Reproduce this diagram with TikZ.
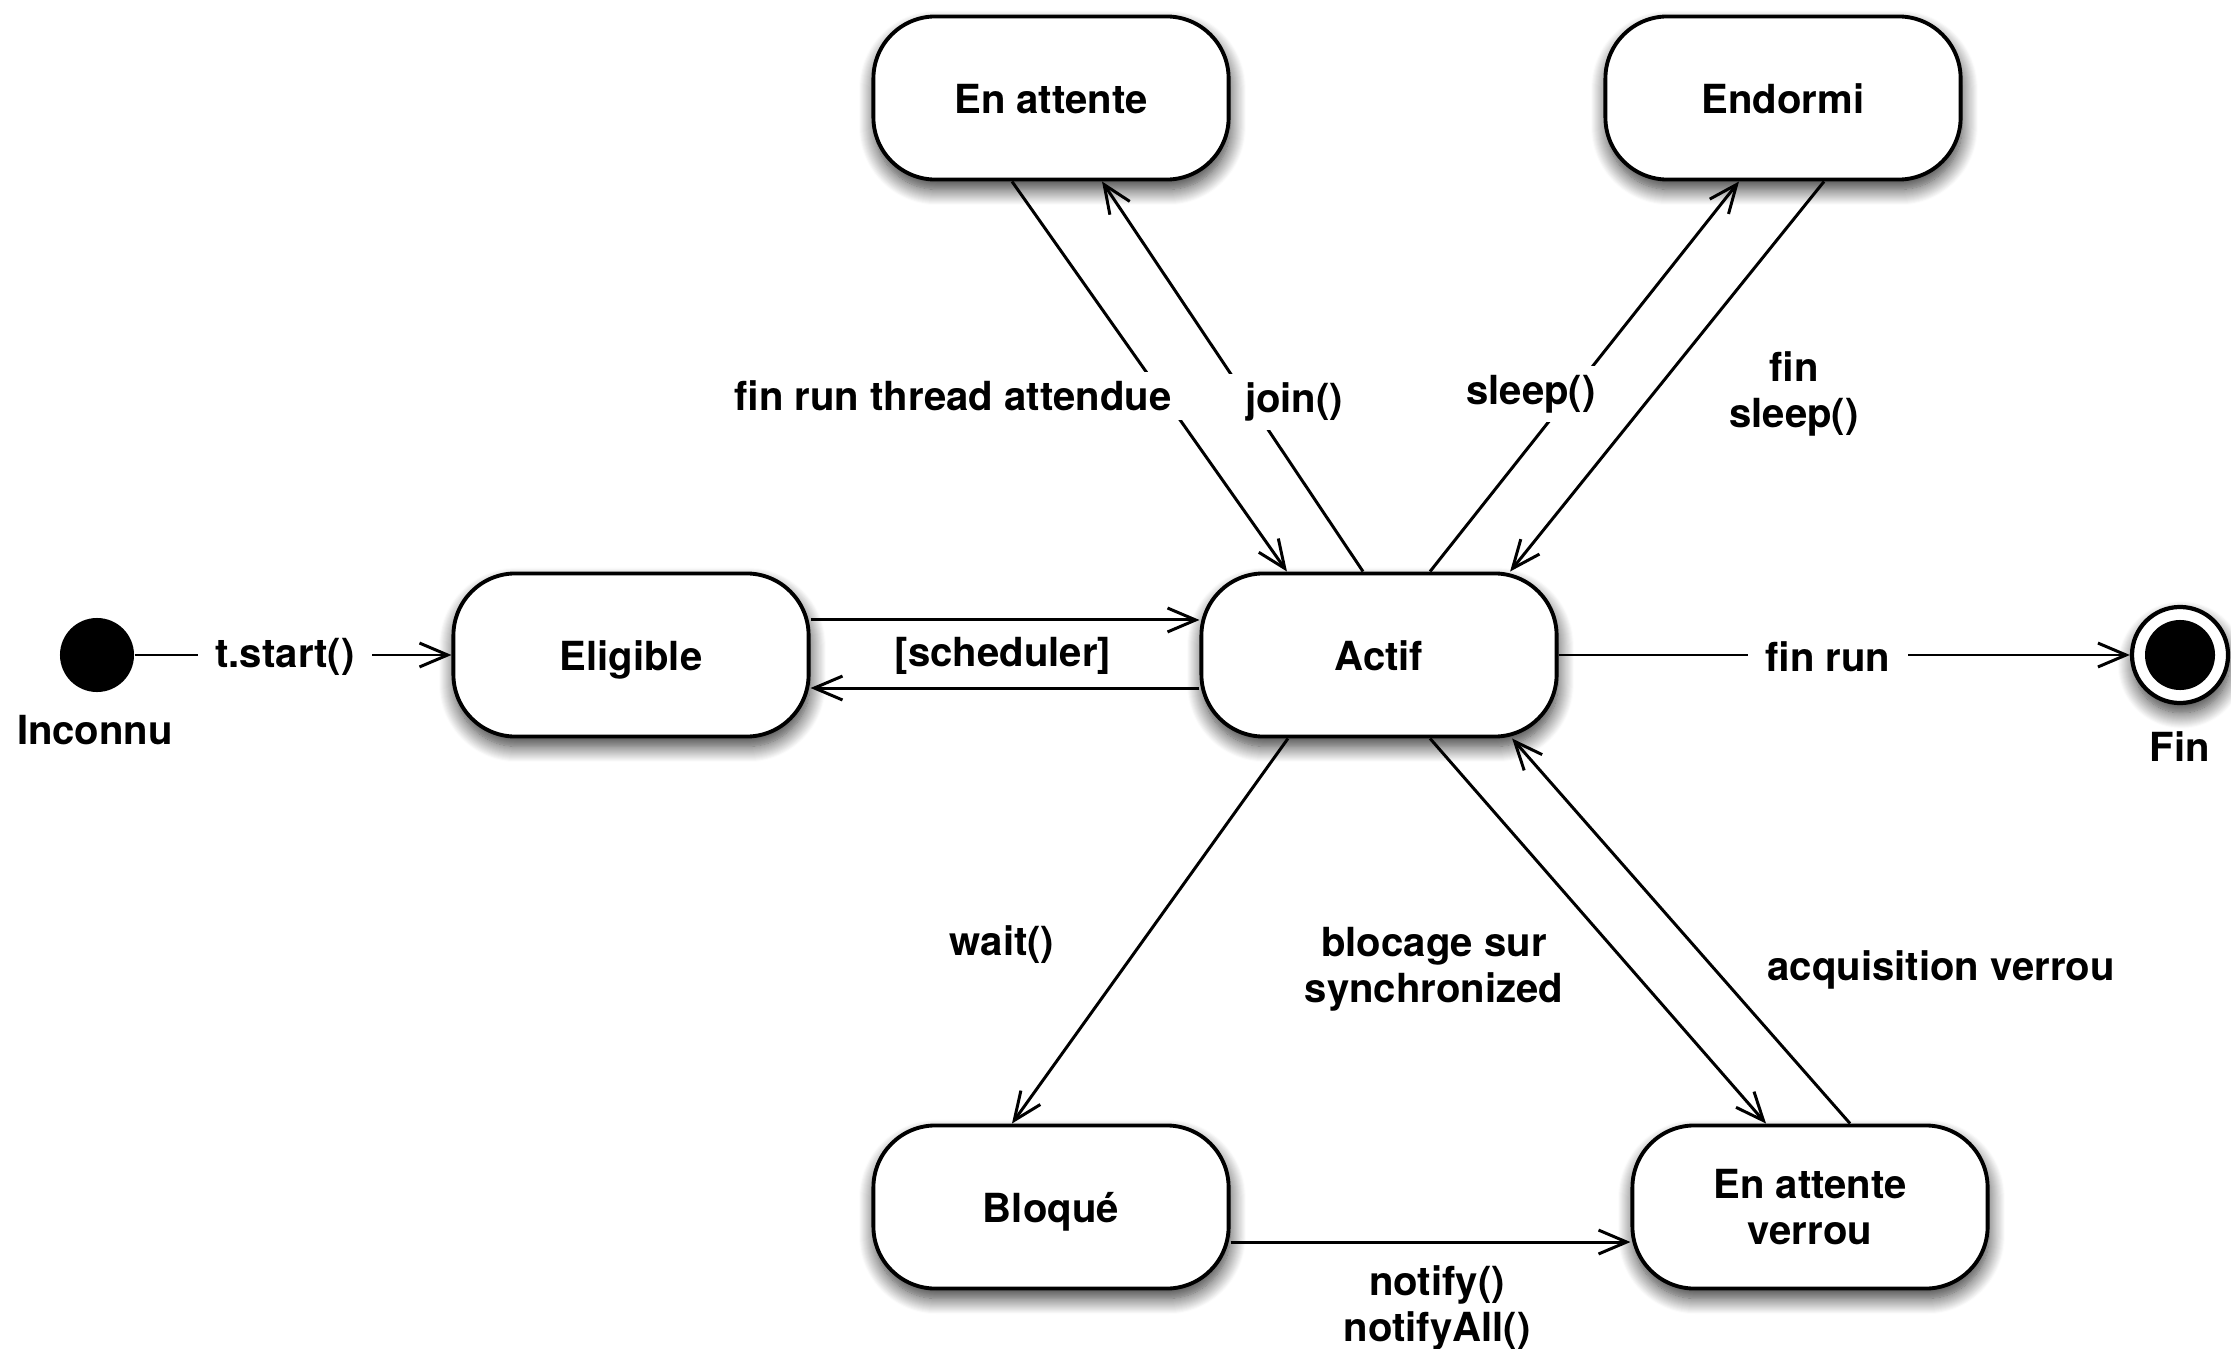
\documentclass[tikz,border=0pt]{standalone}
\usepackage{fontspec}
\setmainfont{TeX Gyre Heros}
\usetikzlibrary{arrows.meta,shadows.blur}

\begin{document}
\begin{tikzpicture}[x=0.01cm,y=-0.01cm,
  font=\fontsize{11.4}{13}\selectfont\bfseries,
  every node/.style={align=center},
  softshadow/.style={blur shadow={shadow xshift=0.4pt, shadow yshift=-2.8pt,
      shadow blur radius=4.5pt, shadow opacity=80, shadow blur steps=16}},
  state/.style={draw, line width=1.1pt, fill=white, rounded corners=0.62cm,
      minimum width=3.55cm, minimum height=1.63cm, inner sep=0pt, softshadow},
  oneline/.style={text height=8.6pt, text depth=0pt},
  initstate/.style={circle, fill=black, minimum size=0.74cm, inner sep=0pt},
  finstate/.style={circle, draw, line width=1.2pt, fill=white, minimum size=0.96cm,
      inner sep=0pt, softshadow,
      path picture={\fill[black] (path picture bounding box.center) circle (0.35cm);}},
  trans/.style={draw, line width=0.85pt, -{Straight Barb[length=8pt,width=6.8pt]}},
  lbl/.style={fill=white, inner xsep=5pt, inner ysep=2.5pt},
]
\useasboundingbox (0,0) rectangle (2231,1349);

% states
\node[state,oneline] (enatt)    at (1051,98)   {En attente};
\node[state,oneline] (endormi)  at (1783,98)   {Endormi};
\node[state,oneline] (eligible) at (631,655)   {Eligible};
\node[state,oneline] (actif)    at (1379,655)  {Actif};
\node[state,oneline] (bloque)   at (1051,1207) {Bloqué};
\node[state] (verrou)   at (1810,1207) {En attente\\verrou};
\node[initstate] (init) at (97,655)    {};
\node[finstate]  (fin)  at (2180,655)  {};
\node (inconnu) at (95,730)  {Inconnu};
\node (finlbl)  at (2180,747) {Fin};

% transitions
\draw[trans] (init) -- (eligible);
\draw[trans] ([yshift=0.35cm]eligible.east) -- ([yshift=0.35cm]eligible.east -| actif.west);
\draw[trans] ([yshift=-0.33cm]actif.west) -- ([yshift=-0.33cm]actif.west -| eligible.east);
\draw[trans] (actif) -- (fin);
\draw[trans] ([xshift=-0.39cm]enatt.south) -- ([xshift=-0.92cm]actif.north);
\draw[trans] ([xshift=-0.16cm]actif.north) -- ([xshift=0.51cm]enatt.south);
\draw[trans] ([xshift=0.51cm]actif.north) -- ([xshift=-0.44cm]endormi.south);
\draw[trans] ([xshift=0.41cm]endormi.south) -- ([xshift=1.31cm]actif.north);
\draw[trans] ([xshift=-0.91cm]actif.south) -- ([xshift=-0.39cm]bloque.north);
\draw[trans] ([xshift=0.51cm]actif.south) -- ([xshift=-0.44cm]verrou.north);
\draw[trans] ([xshift=0.40cm]verrou.north) -- ([xshift=1.33cm]actif.south);
\draw[trans] ([yshift=-0.35cm]bloque.east) -- ([yshift=-0.35cm]bloque.east -| verrou.west);

% transition labels
\node[lbl] (l-start)   at (285,657)  {t.start()};
\node      (l-sched)   at (1003,656) {[scheduler]};
\node[lbl] (l-finrun)  at (1828,657) {fin run};
\node[lbl] (l-fthread) at (953,396)  {fin run thread attendue};
\node[lbl] (l-join)    at (1294,402) {join()};
\node[lbl] (l-sleep)   at (1531,394) {sleep()};
\node      (l-finsleep) at (1794,394) {fin\\sleep()};
\node      (l-wait)    at (1002,945) {wait()};
\node      (l-bloc)    at (1434,969) {blocage sur\\synchronized};
\node      (l-acq)     at (1941,970) {acquisition verrou};
\node      (l-notify)  at (1437,1308) {notify()\\notifyAll()};
\end{tikzpicture}
\end{document}
